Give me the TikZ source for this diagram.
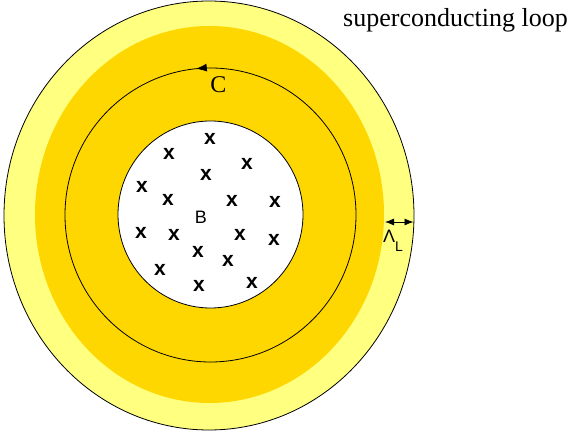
\documentclass[tikz,border=0pt]{standalone}
\usepackage{fontspec}
\setmainfont{Liberation Serif}
\setsansfont{Liberation Sans}
\usetikzlibrary{shapes.geometric,arrows.meta,decorations.markings}
\definecolor{lightyel}{RGB}{255,255,128}
\definecolor{goldfill}{RGB}{255,215,0}
\begin{document}
\begin{tikzpicture}[x=1pt,y=1pt,
  fluxmark/.style={font=\sffamily\bfseries\fontsize{21}{21}\selectfont, inner sep=0pt},
  ring/.style={ellipse, inner sep=0pt, line width=0.8pt}]
\useasboundingbox (0,0) rectangle (574,439);
% outer loop
\node[ring, draw=black, fill=lightyel, minimum width=410pt, minimum height=429pt] (outer) at (209,223.5) {};
% gold band
\node[ring, fill=goldfill, minimum width=349pt, minimum height=377pt] (band) at (209.5,224.5) {};
% contour C
\draw[line width=0.8pt, postaction={decorate},
  decoration={markings, mark=at position 0.266 with {\arrow{Latex[length=11pt,width=8pt]}}}]
  (210.5,224) ellipse [x radius=145.5, y radius=147];
\coordinate (Ccenter) at (210.5,224);
% hole
\node[ring, draw=black, fill=white, minimum width=185pt, minimum height=187pt] (hole) at (210.5,224.5) {};
% labels
\node[anchor=base west, inner sep=0pt, font=\fontsize{26}{26}\selectfont] (title) at (343,412) {superconducting loop};
\node[anchor=base, inner sep=0pt, font=\fontsize{24}{24}\selectfont] (clabel) at (218.5,346) {C};
\node[font=\sffamily\fontsize{18}{18}\selectfont, inner sep=0pt] (B) at (201,222) {B};
% flux marks
\foreach \p [count=\i] in {(210,300),(169,285),(247,275),(206,264),(142,252),(168,239),(232,238),(275,237),(141,206),(174,204),(240,204),(274,199),(198,187),(228,178),(160,169),(199,153),(252,156)}
  \node[fluxmark] (x\i) at \p {x};
% penetration depth
\coordinate (lamL) at (385,217);
\coordinate (lamR) at (413.5,217);
\draw[{Latex[length=9pt,width=7pt]}-{Latex[length=9pt,width=7pt]}, line width=0.8pt] (lamL) -- (lamR);
\node[anchor=base west, inner sep=0pt, font=\sffamily\fontsize{18}{18}\selectfont] (lambda) at (383,196) {Λ\raisebox{-9pt}{\fontsize{14}{14}\selectfont L}};
\end{tikzpicture}
\end{document}
